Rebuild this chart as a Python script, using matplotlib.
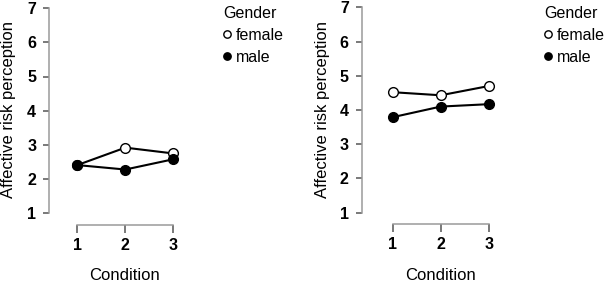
import matplotlib
matplotlib.use("Agg")
import matplotlib.pyplot as plt

plt.rcParams["font.family"] = ["Liberation Sans", "DejaVu Sans"]

# data
conditions = [1, 2, 3]
left_female = [2.41, 2.92, 2.75]
left_male = [2.41, 2.28, 2.58]
right_female = [4.52, 4.43, 4.70]
right_male = [3.79, 4.10, 4.17]

y_ticks = [1, 2, 3, 4, 5, 6, 7]
legend_title = "Gender"
legend_labels = ["female", "male"]
xlabel = "Condition"
ylabel = "Affective risk perception"

W, H = 608, 282
fig = plt.figure(figsize=(W / 100, H / 100), dpi=100)

spine_col = "#9a9a9a"


def panel(x_spine, x_one, y_top7, y_one, x_axis_y, female, male, leg_x, lab_x, cond_x):
    unit_y = (y_one - y_top7) / 6.0
    unit_x = 48.0
    ax_left, ax_right = x_spine, x_spine + 150
    ax_bottom, ax_top = x_axis_y, 4
    ax = fig.add_axes([ax_left / W, 1 - ax_bottom / H,
                       (ax_right - ax_left) / W, (ax_bottom - ax_top) / H])
    ax.set_xlim(1 - (x_one - x_spine) / unit_x, 1 + (ax_right - x_one) / unit_x)
    ax.set_ylim(1 - (x_axis_y - y_one) / unit_y, 7 + (y_top7 - ax_top) / unit_y)

    ax.plot(conditions, female, color="black", lw=1.5, marker="o", ms=7,
            mfc="white", mec="black", mew=1.0, label=legend_labels[0], zorder=3)
    ax.plot(conditions, male, color="black", lw=1.5, marker="o", ms=7,
            mfc="black", mec="black", mew=1.0, label=legend_labels[1], zorder=4)

    for s in ["top", "right"]:
        ax.spines[s].set_visible(False)
    ax.spines["left"].set_bounds(1, 7)
    ax.spines["bottom"].set_bounds(1, 3)
    for s in ["left", "bottom"]:
        ax.spines[s].set_color(spine_col)
        ax.spines[s].set_linewidth(1.1)
    ax.set_yticks(y_ticks)
    ax.set_xticks(conditions)
    ax.tick_params(axis="y", length=4.3, width=1.1, color="#555555", pad=5,
                   labelsize=11.5)
    ax.tick_params(axis="x", length=5.8, width=1.1, color="#555555", pad=3.5,
                   labelsize=11.5)
    for t in ax.get_xticklabels() + ax.get_yticklabels():
        t.set_fontweight("bold")
    ax.patch.set_alpha(0)

    fig.text(lab_x / W, 1 - 110 / H, ylabel, rotation=90, ha="center",
             va="center", fontsize=12)
    fig.text(cond_x / W, 1 - 276 / H, xlabel, ha="center", va="center",
             fontsize=12)

    leg = ax.legend(title=legend_title, loc="upper left",
                    bbox_to_anchor=(leg_x / W, 1 - 5.5 / H),
                    bbox_transform=fig.transFigure, frameon=False,
                    fontsize=11.5, title_fontsize=11.5, handlelength=0.5,
                    handletextpad=0.3, borderpad=0, borderaxespad=0,
                    labelspacing=0.45, alignment="left")
    for h in leg.legend_handles:
        h.set_linestyle("none")
        h.set_markersize(5.3)
    return ax


panel(49, 77.3, 8.1, 213.3, 225, left_female, left_male, 223, 9, 125)
panel(361.7, 392.7, 7.3, 212.7, 224, right_female, right_male, 544, 323, 440.5)

fig.savefig("out.png", dpi=100)
